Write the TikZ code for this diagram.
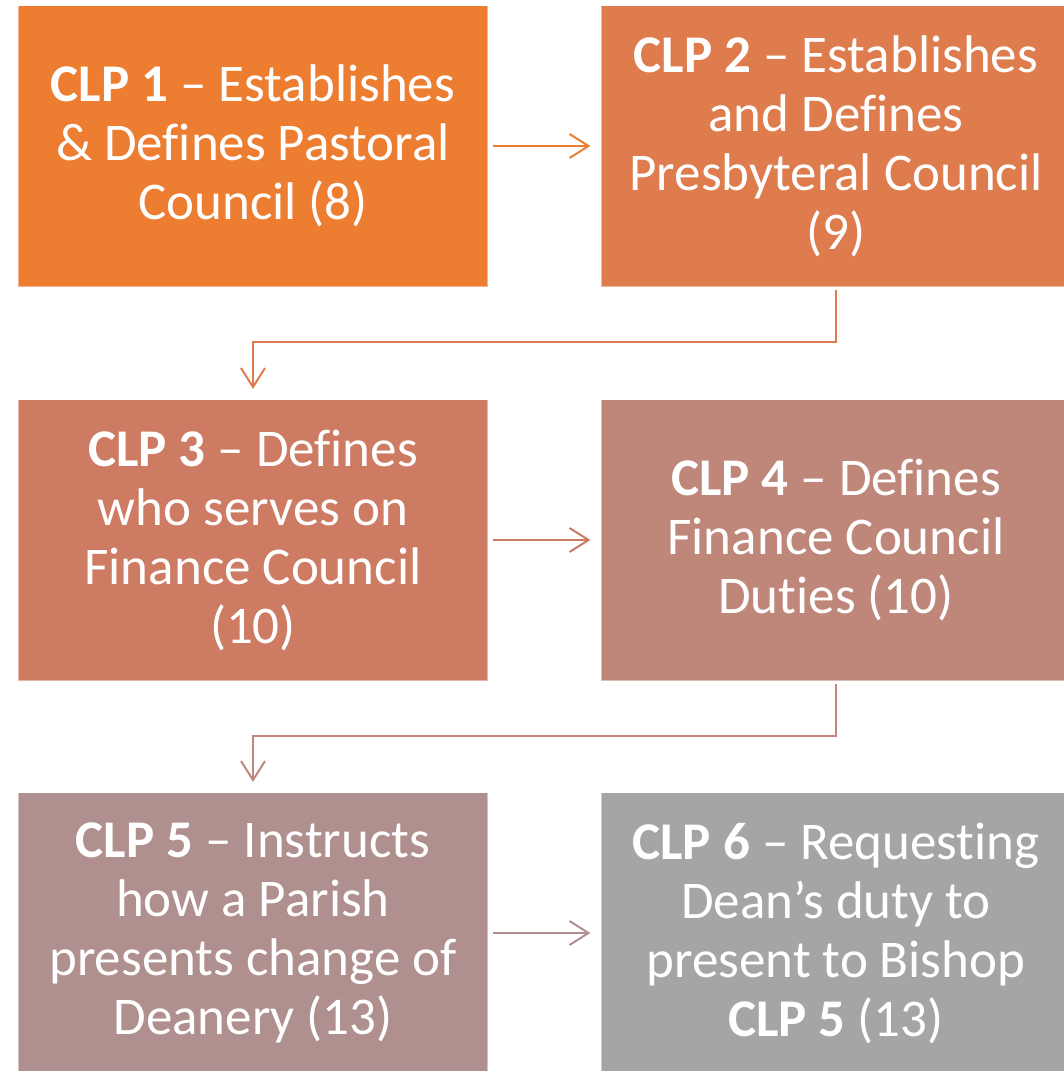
\documentclass[tikz,border=0pt]{standalone}
\usepackage{fontspec}
\setmainfont[Ligatures={NoCommon,NoRare}]{Carlito}
\usetikzlibrary{arrows.meta}
\definecolor{cA}{HTML}{ED7D31}
\definecolor{cB}{HTML}{DE7C4D}
\definecolor{cC}{HTML}{CD7B62}
\definecolor{cD}{HTML}{BE877A}
\definecolor{cE}{HTML}{AF908E}
\definecolor{cF}{HTML}{A5A5A5}
\begin{document}
\begin{tikzpicture}[x=1pt,y=-1pt,
  box/.style={rectangle, minimum width=470pt, minimum height=281pt, inner sep=0pt,
    draw=white, draw opacity=0.45, line width=1.2pt, text=white, align=center,
    font=\fontsize{53}{59}\selectfont},
  conn/.style={line width=2pt, -{Straight Barb[length=19pt,width=24pt,line width=2pt]},
    shorten <=4pt, shorten >=10pt}]
\useasboundingbox (0,0) rectangle (1064,1071);
\node[box, fill=cA] (b1) at (253,146) {\textbf{CLP 1} – Establishes\\ \& Defines Pastoral\\ Council (8)};
\node[box, fill=cB] (b2) at (836,146) {\textbf{CLP 2} – Establishes\\ and Defines\\ Presbyteral Council\\ (9)};
\node[box, fill=cC] (b3) at (253,540) {\textbf{CLP 3} – Defines\\ who serves on\\ Finance Council\\ (10)};
\node[box, fill=cD] (b4) at (836,540) {\textbf{CLP 4} – Defines\\ Finance Council\\ Duties (10)};
\node[box, fill=cE] (b5) at (253,933) {\textbf{CLP 5} – Instructs\\ how a Parish\\ presents change of\\ Deanery (13)};
\node[box, fill=cF] (b6) at (836,933) {\textbf{CLP 6} – Requesting\\ Dean’s duty to\\ present to Bishop\\ \textbf{CLP 5} (13)};
\draw[conn, cA] (b1.east) -- (b2.west);
\draw[conn, cB, shorten <=3pt] (b2.south) -- ++(0,55) -| (b3.north);
\draw[conn, cC] (b3.east) -- (b4.west);
\draw[conn, cD, shorten <=3pt] (b4.south) -- ++(0,55) -| (b5.north);
\draw[conn, cE] (b5.east) -- (b6.west);
\end{tikzpicture}
\end{document}
